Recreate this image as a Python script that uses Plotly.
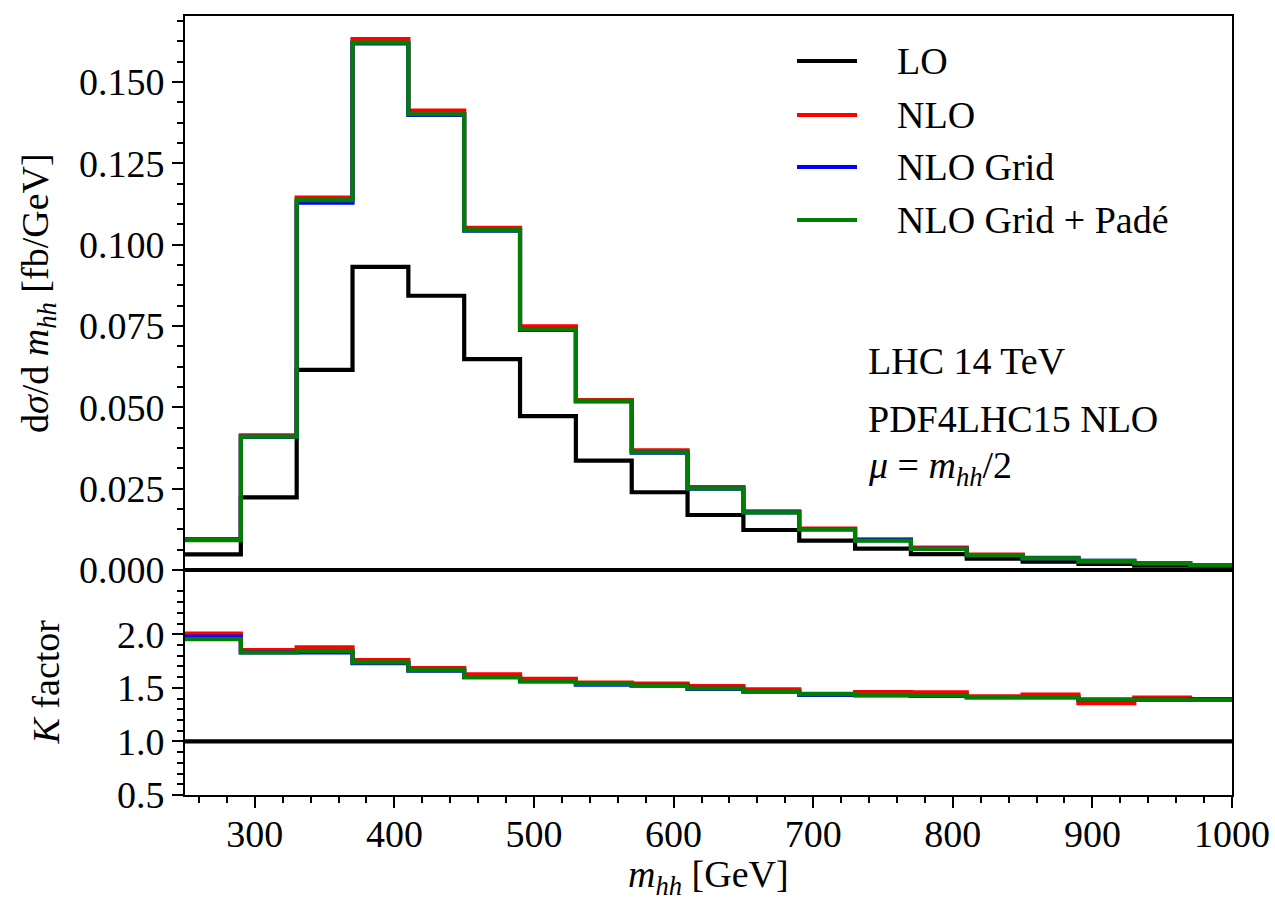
import plotly.graph_objects as go

# ---- data ----
bin_edges = [250, 290, 330, 370, 410, 450, 490, 530, 570, 610, 650,
             690, 730, 770, 810, 850, 890, 930, 970, 1010]

lo = [0.0048, 0.0223, 0.0615, 0.0932, 0.0843, 0.0648, 0.0473, 0.0336, 0.0239,
      0.0169, 0.0123, 0.0090, 0.0066, 0.0049, 0.0035, 0.0026, 0.0019, 0.0013, 0.0009]
nlo = [0.0095, 0.0414, 0.1145, 0.1632, 0.1412, 0.1052, 0.0749, 0.0522, 0.0368,
       0.0255, 0.0180, 0.0127, 0.0094, 0.0069, 0.0047, 0.0037, 0.0026, 0.0021, 0.0015]
nlo_grid = [0.0093, 0.0409, 0.1129, 0.1619, 0.1399, 0.1043, 0.0738, 0.0518, 0.0361,
            0.0250, 0.0177, 0.0125, 0.0092, 0.0065, 0.0046, 0.0036, 0.0028, 0.0021, 0.0015]
nlo_pade = [0.0092, 0.0410, 0.1137, 0.1621, 0.1401, 0.1045, 0.0740, 0.0520, 0.0362,
            0.0251, 0.0177, 0.0125, 0.0090, 0.0065, 0.0046, 0.0036, 0.0028, 0.0021, 0.0015]

k_nlo = [2.007, 1.852, 1.877, 1.759, 1.684, 1.626, 1.584, 1.550, 1.540, 1.516,
         1.485, 1.445, 1.460, 1.457, 1.420, 1.438, 1.357, 1.410, 1.390]
k_grid = [1.979, 1.830, 1.830, 1.730, 1.660, 1.600, 1.560, 1.530, 1.520, 1.490,
          1.465, 1.435, 1.430, 1.425, 1.410, 1.410, 1.390, 1.390, 1.395]
k_pade = [1.955, 1.830, 1.846, 1.737, 1.665, 1.600, 1.563, 1.537, 1.522, 1.494,
          1.469, 1.441, 1.435, 1.430, 1.413, 1.413, 1.391, 1.391, 1.390]
k_lo = [a / a for a in lo]

k_ticks = [0.5, 1.0, 1.5, 2.0]
series_names = ["LO", "NLO", "NLO Grid", "NLO Grid + Padé"]
colors = ["black", "#ff0000", "#0000ff", "#008000"]

FONT = "Liberation Serif"
FS = 38
LW = 4.2

def step(vals):
    return list(vals) + [vals[-1]]

fig = go.Figure()
top = [lo, nlo, nlo_grid, nlo_pade]
bot = [k_lo, k_nlo, k_grid, k_pade]
for name, col, ys in zip(series_names, colors, top):
    fig.add_trace(go.Scatter(x=bin_edges, y=step(ys), mode="lines", name=name,
                             line=dict(color=col, width=LW, shape="hv"),
                             xaxis="x", yaxis="y", showlegend=False))
for name, col, ys in zip(series_names, colors, bot):
    fig.add_trace(go.Scatter(x=bin_edges, y=step(ys), mode="lines", name=name,
                             line=dict(color=col, width=LW, shape="hv"),
                             xaxis="x2", yaxis="y2", showlegend=False))

W, H = 1275, 902
ml, mr, mt, mb = 185, 43, 16, 107
ph = H - mt - mb
split = 225 / ph

axis_common = dict(showgrid=False, zeroline=False, showline=True, linecolor="black",
                   linewidth=2, mirror=True, tickcolor="black", tickwidth=2, automargin=False,
                   tickfont=dict(family=FONT, size=FS, color="black"))

k_minor = [round(0.5 + 0.1 * i, 1) for i in range(0, 20)]
k_minor = [v for v in k_minor if v not in k_ticks]

fig.update_layout(
    width=W, height=H,
    margin=dict(l=ml, r=mr, t=mt, b=mb),
    paper_bgcolor="white", plot_bgcolor="white",
    font=dict(family=FONT, size=FS, color="black"),
    xaxis=dict(domain=[0, 1], anchor="y", range=[250, 1000], showticklabels=False,
               ticks="", matches="x2", **{k: v for k, v in axis_common.items() if k != "tickfont"}),
    yaxis=dict(domain=[split, 1], anchor="x", range=[0, 0.1703], tick0=0, dtick=0.025,
               tickformat=".3f", ticks="outside", ticklen=11,
               minor=dict(dtick=0.00625, ticks="outside", ticklen=6, tickwidth=2, tickcolor="black"),
               **axis_common),
    xaxis2=dict(domain=[0, 1], anchor="y2", range=[250, 1000], tick0=0, dtick=100,
                ticks="outside", ticklen=11, ticklabelstandoff=-7,
                minor=dict(dtick=20, ticks="outside", ticklen=6, tickwidth=2, tickcolor="black"),
                **axis_common),
    yaxis2=dict(domain=[0, split], anchor="x2", range=[0.5, 2.6], tickmode="array",
                tickvals=k_ticks, ticktext=[f"{v:.1f}" for v in k_ticks],
                ticks="outside", ticklen=11,
                minor=dict(tickmode="array", tickvals=k_minor, ticks="outside", ticklen=6,
                           tickwidth=2, tickcolor="black"),
                **axis_common),
)

def px_x(x):
    return (x - ml) / (W - ml - mr)

def px_y(y):
    return (H - mb - y) / ph

ann = []
ann.append(dict(text="d<i>σ</i>/d <i>m</i><sub><i>hh</i></sub> [fb/GeV]", x=px_x(38), y=(split + 1) / 2,
                xref="paper", yref="paper", textangle=-90, showarrow=False,
                xanchor="center", yanchor="middle", font=dict(family=FONT, size=FS)))
ann.append(dict(text="<i>K</i> factor", x=px_x(45), y=split / 2,
                xref="paper", yref="paper", textangle=-90, showarrow=False,
                xanchor="center", yanchor="middle", font=dict(family=FONT, size=FS)))
ann.append(dict(text="<i>m</i><sub><i>hh</i></sub> [GeV]", x=0.5, y=px_y(877),
                xref="paper", yref="paper", showarrow=False,
                xanchor="center", yanchor="middle", font=dict(family=FONT, size=FS)))
for txt, yy in [("LHC 14 TeV", 361), ("PDF4LHC15 NLO", 419),
                ("<i>μ</i> = <i>m</i><sub><i>hh</i></sub>/2", 468)]:
    ann.append(dict(text=txt, x=px_x(866), y=px_y(yy), xref="paper", yref="paper",
                    showarrow=False, xanchor="left", yanchor="middle",
                    font=dict(family=FONT, size=FS)))

shapes = []
for name, col, yy in zip(series_names, colors, [61, 115, 167, 220]):
    shapes.append(dict(type="line", xref="paper", yref="paper",
                       x0=px_x(797), x1=px_x(857), y0=px_y(yy), y1=px_y(yy),
                       line=dict(color=col, width=LW)))
    ann.append(dict(text=name, x=px_x(895), y=px_y(yy), xref="paper", yref="paper",
                    showarrow=False, xanchor="left", yanchor="middle",
                    font=dict(family=FONT, size=FS)))

fig.update_layout(annotations=ann, shapes=shapes)
fig.write_html("out.html")
